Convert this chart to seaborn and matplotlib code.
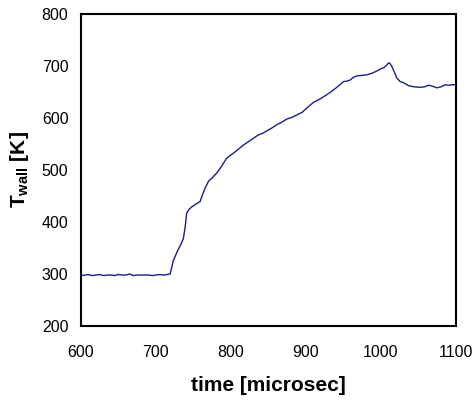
import numpy as np
import pandas as pd
import matplotlib
matplotlib.use('Agg')
import matplotlib.pyplot as plt
import seaborn as sns

# wall temperature trace
time_us = [600, 604, 608, 612, 616, 620, 625, 630, 635, 640, 645, 650, 655, 660, 665,
           670, 675, 680, 685, 690, 695, 700, 705, 710, 715, 719, 721, 723, 725.4, 729,
           733, 736.6, 739, 741, 744, 747.7, 752, 756, 758.8, 762, 765.5, 770, 775, 781,
           787, 794, 798, 803, 810, 816.6, 823, 830, 836, 843, 850, 856, 861, 868, 874.5,
           881, 888, 895, 901, 905, 910, 918, 928, 935, 942, 950, 955, 959, 963, 968,
           975, 981, 988, 994, 999, 1004, 1008, 1010, 1012, 1014.6, 1018, 1021, 1025.7,
           1030, 1037, 1044, 1052, 1058, 1063.5, 1069, 1074.6, 1080, 1085.8, 1090, 1095, 1100]
t_wall = [299, 297, 299, 298, 297, 298, 299, 297, 298, 298, 297, 299, 298, 298, 300,
          297, 298, 298, 298, 298, 297, 298, 299, 298, 299, 300, 312, 325, 333, 345,
          356, 368, 390, 417, 424, 429, 433, 437, 439, 452, 465, 478, 485, 494,
          506, 522, 527, 532, 540, 548, 554, 561, 567, 571, 577, 582, 587, 592, 598,
          601, 606, 611, 619, 624, 630, 636, 645, 652, 660, 670, 671, 673, 678, 681,
          682, 683, 686, 690, 694, 697, 702, 706, 705, 699, 688, 677, 670,
          668, 662, 660, 659, 660, 663, 661, 658, 660, 664, 663, 664, 664]

df = pd.DataFrame({'time': time_us, 'T': t_wall})

sns.set_theme(style='white')
plt.rcParams['font.family'] = ['Liberation Sans', 'DejaVu Sans']
plt.rcParams['mathtext.fontset'] = 'custom'
plt.rcParams['mathtext.rm'] = 'Liberation Sans'
plt.rcParams['mathtext.bf'] = 'Liberation Sans:bold'
plt.rcParams['text.color'] = 'black'
plt.rcParams['axes.labelcolor'] = 'black'

fig = plt.figure(figsize=(4.73, 4.0), dpi=100)
ax = fig.add_axes([0.171, 0.185, 0.793, 0.78])

sns.lineplot(data=df, x='time', y='T', ax=ax, color='#1c1c8a', linewidth=1.0)

ax.set_xlim(600, 1100)
ax.set_ylim(200, 800)
ax.set_xticks([600, 700, 800, 900, 1000, 1100])
ax.set_yticks([200, 300, 400, 500, 600, 700, 800])
ax.tick_params(direction='in', length=4, width=1, labelsize=11.5, colors='black')
ax.tick_params(axis='x', pad=14)
ax.tick_params(axis='y', pad=9)
for s in ax.spines.values():
    s.set_color('black')
    s.set_linewidth(1.5)

ax.set_xlabel('time [microsec]', fontsize=15, fontweight='bold', labelpad=11)
ax.set_ylabel(r'T$_{\mathbf{wall}}$ [K]', fontsize=15, fontweight='bold', labelpad=8)

fig.savefig('out.png', dpi=100)
